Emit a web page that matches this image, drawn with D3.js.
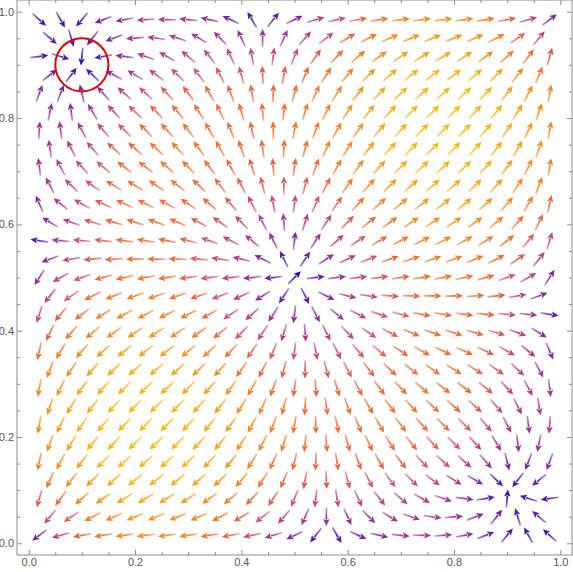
<!DOCTYPE html>
<html>
<head>
<meta charset="utf-8">
<script src="https://cdn.jsdelivr.net/npm/d3@7"></script>
<style>
  html, body { margin: 0; padding: 0; background: #ffffff; }
  svg { display: block; }
  .tick-label { font-family: "Liberation Sans", "DejaVu Sans", sans-serif; font-size: 11px; fill: #555555; }
</style>
</head>
<body>
<svg id="chart" width="573" height="572"></svg>
<script>
// ---------------- data ----------------
const xTickValues = [0, 0.2, 0.4, 0.6, 0.8, 1.0];
const xTickLabels = ["0.0", "0.2", "0.4", "0.6", "0.8", "1.0"];
const yTickValues = [0, 0.2, 0.4, 0.6, 0.8, 1.0];
const yTickLabels = ["0.0", "0.2", "0.4", "0.6", "0.8", "1.0"];
const minorStep = [0.05];
const plotDomain = [-0.022, 1.022];

// vector field description (replicator-like field with two off-corner sinks)
const interiorPoint = [0.5, 0.5];
const crossCoupling = [0.11];
const sinkPoints = [[0.1, 0.9], [0.9, 0.1]];
const sinkStrength = [0.96];
const sinkDecay = [0.1];
const sinkSpread = [0.14];

// hexagonal sampling of arrows
const arrowSpacing = [0.04];
const rowCount = [29];

// highlighted point
const highlightCenter = [0.1, 0.9];
const highlightRadius = [0.05];

// colour stops (position along normalised norm, colour)
const colorPositions = [0.0, 0.1, 0.2, 0.31, 0.42, 0.53, 0.65, 0.78, 0.9, 1.0];
const colorStops = ["#1d0cc0", "#4f16b8", "#7e26ac", "#a83692", "#cc4670", "#ea5a48", "#fc7222", "#ff8c10", "#ffaa04", "#ffb800"];

// ---------------- field ----------------
function phi(t) { return Math.exp(-t / sinkDecay[0]); }
function psi(t) { const d = t - sinkPoints[0][1]; return Math.exp(-d * d / (2 * sinkSpread[0] * sinkSpread[0])); }
function fComp(x, y) {
  return (x - interiorPoint[0]) + crossCoupling[0] * (y - interiorPoint[1])
    + sinkStrength[0] * (phi(x) * psi(y) - phi(1 - x) * psi(1 - y));
}
function field(x, y) {
  return [x * (1 - x) * fComp(x, y), y * (1 - y) * fComp(y, x)];
}

// ---------------- layout ----------------
const svg = d3.select("#chart");
const X = d3.scaleLinear().domain(plotDomain).range([17, 572]);
const Y = d3.scaleLinear().domain(plotDomain).range([555, 0]);

// sample points
const dx = arrowSpacing[0];
const dy = dx * Math.sqrt(3) / 2;
const y0 = (1 - (rowCount[0] - 1) * dy) / 2;
const pts = [];
for (let k = 0; k < rowCount[0]; k++) {
  const yy = y0 + k * dy;
  const off = (k % 2 === 0) ? dx / 2 : dx;
  for (let xx = off; xx < 1 - 1e-9; xx += dx) {
    const v = field(xx + 1e-4, yy + 1e-4);
    pts.push({ x: xx, y: yy, vx: v[0], vy: v[1], n: Math.hypot(v[0], v[1]) });
  }
}
const nExt = d3.extent(pts, d => d.n);
const colorScale = d3.scaleLinear()
  .domain(colorPositions.map(t => nExt[0] + (nExt[1] - nExt[0]) * t))
  .range(colorStops)
  .interpolate(d3.interpolateRgb);

// arrows
const defs = svg.append("defs");
const L = 18, headL = 7, headW = 3.2;
const g = svg.append("g");
pts.forEach((p, i) => {
  const cx = X(p.x), cy = Y(p.y);
  const a = Math.atan2(-p.vy, p.vx);
  const ux = Math.cos(a), uy = Math.sin(a);
  const tx = cx - ux * L / 2, ty = cy - uy * L / 2;
  const hx = cx + ux * L / 2, hy = cy + uy * L / 2;
  const bx = hx - ux * headL, by = hy - uy * headL;
  const col = colorScale(p.n);
  const gid = "ag" + i;
  const lg = defs.append("linearGradient").attr("id", gid)
    .attr("gradientUnits", "userSpaceOnUse")
    .attr("x1", tx).attr("y1", ty).attr("x2", bx).attr("y2", by);
  lg.append("stop").attr("offset", 0).attr("stop-color", col).attr("stop-opacity", 0.5);
  lg.append("stop").attr("offset", 1).attr("stop-color", col).attr("stop-opacity", 1);
  g.append("line")
    .attr("x1", tx).attr("y1", ty).attr("x2", bx + ux * 0.5).attr("y2", by + uy * 0.5)
    .attr("stroke", `url(#${gid})`).attr("stroke-width", 1.7);
  g.append("path")
    .attr("d", `M${hx},${hy}L${bx - uy * headW},${by + ux * headW}L${bx + ux * 1.3},${by + uy * 1.3}L${bx + uy * headW},${by - ux * headW}Z`)
    .attr("fill", col);
});

// highlight circle
svg.append("circle")
  .attr("cx", X(highlightCenter[0])).attr("cy", Y(highlightCenter[1]))
  .attr("r", X(highlightRadius[0]) - X(0))
  .attr("fill", "none").attr("stroke", "#e60000").attr("stroke-width", 2);

// frame
const frameCol = "#8c8c8c";
svg.append("rect")
  .attr("x", X(plotDomain[0])).attr("y", Y(plotDomain[1]))
  .attr("width", X(plotDomain[1]) - X(plotDomain[0]))
  .attr("height", Y(plotDomain[0]) - Y(plotDomain[1]))
  .attr("fill", "none").attr("stroke", frameCol).attr("stroke-width", 1);

// ticks via axes
const minorVals = d3.range(0, 1.0001, minorStep[0]).filter(v => !xTickValues.some(t => Math.abs(t - v) < 1e-6));
function addAxis(axisFn, scale, vals, size, transform, labels) {
  const ax = axisFn(scale).tickValues(vals).tickSizeInner(-size).tickSizeOuter(0)
    .tickFormat((d, i) => labels ? labels[i] : "");
  const gg = svg.append("g").attr("transform", transform).call(ax);
  gg.select(".domain").remove();
  gg.selectAll(".tick line").attr("stroke", frameCol).attr("stroke-width", 1);
  gg.selectAll(".tick text").attr("class", "tick-label").attr("fill", "#555");
  return gg;
}
const bottomY = Y(plotDomain[0]), topY = Y(plotDomain[1]);
const leftX = X(plotDomain[0]), rightX = X(plotDomain[1]);
const bx = addAxis(d3.axisBottom, X, xTickValues, 5, `translate(0,${bottomY})`, xTickLabels);
bx.selectAll(".tick text").attr("dy", "0.71em").attr("y", 3);
addAxis(d3.axisBottom, X, minorVals, 3, `translate(0,${bottomY})`, null);
addAxis(d3.axisTop, X, xTickValues, 5, `translate(0,${topY})`, null);
addAxis(d3.axisTop, X, minorVals, 3, `translate(0,${topY})`, null);
const ly = addAxis(d3.axisLeft, Y, yTickValues, 5, `translate(${leftX},0)`, yTickLabels);
ly.selectAll(".tick text").attr("x", -3);
addAxis(d3.axisLeft, Y, minorVals, 3, `translate(${leftX},0)`, null);
addAxis(d3.axisRight, Y, yTickValues, 5, `translate(${rightX},0)`, null);
addAxis(d3.axisRight, Y, minorVals, 3, `translate(${rightX},0)`, null);
</script>
</body>
</html>
